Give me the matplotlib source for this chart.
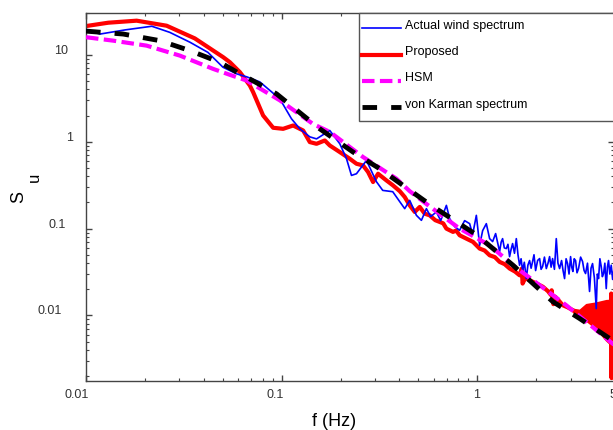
import matplotlib
matplotlib.use('Agg')
import matplotlib.pyplot as plt
from matplotlib.patches import Rectangle
from matplotlib.ticker import LogLocator, NullFormatter
from matplotlib.transforms import ScaledTranslation

# Données (f en Hz, S_u)
actual_f = [0.0100, 0.0118, 0.0158, 0.0217, 0.0268, 0.034, 0.042, 0.0501, 0.059, 0.0664,
            0.0774, 0.0979, 0.1123, 0.1239, 0.1393, 0.1508, 0.1762, 0.1983, 0.2146, 0.2275,
            0.2413, 0.2714, 0.3052, 0.3287, 0.3698, 0.4016, 0.4258, 0.4516,
            0.4886, 0.5182, 0.5495, 0.5779, 0.618, 0.6501, 0.6953, 0.7225, 0.7666, 0.8128,
            0.8619, 0.9144, 0.9471, 0.9892, 1.0285, 1.0654, 1.1127, 1.1565, 1.1983, 1.2413,
            1.3007, 1.325, 1.3473, 1.375, 1.4073, 1.435, 1.4629, 1.49, 1.5156, 1.55,
            1.5834, 1.615, 1.6456, 1.675, 1.7049, 1.74, 1.7808, 1.815, 1.8513, 1.885,
            1.918, 1.95, 1.9872, 2.035, 2.0832, 2.12, 2.1579, 2.205, 2.2539, 2.30,
            2.3428, 2.385, 2.4266, 2.48, 2.5346, 2.585, 2.6352, 2.6977, 2.745, 2.7945,
            2.845, 2.8951, 2.945, 2.9992, 3.04, 3.0812, 3.13, 3.1806, 3.235, 3.2946,
            3.375, 3.4539, 3.515, 3.5777, 3.66, 3.7497, 3.815, 3.8841, 3.97, 4.0569,
            4.11, 4.1687, 4.235, 4.3024, 4.36, 4.4209, 4.49, 4.5635, 4.625, 4.6881,
            4.76, 4.8397, 4.92, 5.0]
actual_s = [19.5, 17.4, 19.4, 21.4, 18.2, 14.0, 10.7, 7.22, 6.05, 5.59,
            4.89, 3.12, 1.84, 1.41, 1.14, 1.08, 1.35, 0.949, 0.638, 0.41,
            0.4286, 0.61, 0.347, 0.2756, 0.2662, 0.2043, 0.1698, 0.2115,
            0.1422, 0.1246, 0.1698, 0.1374, 0.1556, 0.1236, 0.1853, 0.1303, 0.1054, 0.0956,
            0.1236, 0.1141, 0.0853, 0.1422, 0.0643, 0.0948, 0.1141, 0.0767, 0.0709, 0.0877,
            0.0544, 0.070, 0.0767, 0.060, 0.0589, 0.066, 0.0476, 0.058, 0.0673, 0.052,
            0.0767, 0.050, 0.0379, 0.045, 0.0329, 0.041, 0.0266, 0.038, 0.0429, 0.035,
            0.0418, 0.050, 0.0329, 0.043, 0.0452, 0.034, 0.0366, 0.047, 0.0347, 0.040,
            0.0476, 0.036, 0.0452, 0.034, 0.0767, 0.040, 0.0347, 0.0429, 0.033, 0.0266,
            0.045, 0.0396, 0.030, 0.0476, 0.036, 0.0321, 0.045, 0.0429, 0.031, 0.0347,
            0.047, 0.0418, 0.033, 0.0304, 0.040, 0.0189, 0.035, 0.0396, 0.027, 0.0120,
            0.030, 0.0266, 0.045, 0.0366, 0.028, 0.0304, 0.040, 0.0204, 0.036, 0.0429,
            0.030, 0.0379, 0.026, 0.0347]

proposed_f = [0.0100, 0.0130, 0.01815, 0.02583, 0.036, 0.0503, 0.0544, 0.0612, 0.0688, 0.0715,
              0.0804, 0.0905, 0.1018, 0.1145, 0.1288, 0.1393, 0.1508, 0.1662, 0.1762, 0.1983,
              0.2229, 0.2413, 0.2608, 0.2766, 0.2933, 0.3111, 0.3433, 0.371, 0.4016, 0.4258,
              0.4516, 0.479, 0.508, 0.5385, 0.5713, 0.61, 0.6427, 0.67, 0.6955, 0.7515,
              0.78, 0.813, 0.8797, 0.9508, 1.0287, 1.09, 1.157, 1.23, 1.301, 1.38,
              1.464, 1.56, 1.646, 1.69, 1.705, 1.76, 1.925, 2.05, 2.166, 2.30,
              2.38, 2.40, 2.45, 2.50, 2.60, 2.739, 2.90, 3.082, 3.333, 3.60,
              4.058, 4.563, 4.80, 4.84, 4.86, 4.88, 5.0]
proposed_s = [21.5, 23.5, 24.8, 21.7, 15.5, 9.41, 8.24, 6.33, 4.44, 3.73,
              2.01, 1.45, 1.41, 1.54, 1.349, 0.992, 0.948, 1.035, 0.907, 0.761,
              0.638, 0.5585, 0.534, 0.4484, 0.344, 0.4286, 0.359, 0.3145, 0.27, 0.2314,
              0.1853, 0.1556, 0.1776, 0.1487, 0.1422, 0.125, 0.1194, 0.115, 0.1, 0.0917,
              0.095, 0.0838, 0.0767, 0.0704, 0.0589, 0.056, 0.0493, 0.047, 0.0414, 0.039,
              0.0347, 0.032, 0.029, 0.0347, 0.0233, 0.027, 0.0244, 0.0228, 0.0214, 0.019,
              0.0172, 0.0195, 0.0135, 0.0165, 0.015, 0.0131, 0.0124, 0.0115, 0.0101, 0.011,
              0.0100, 0.0095, 0.0100, 0.0179, 0.0019, 0.0120, 0.0075]

# enveloppe de la bande bruitée en haute fréquence
band_f = [3.10, 3.333, 3.604, 4.058, 4.563, 4.84, 5.0]
band_hi = [0.0118, 0.0115, 0.0134, 0.0140, 0.0149, 0.0150, 0.0150]
band_lo = [0.0110, 0.0093, 0.0088, 0.0071, 0.0052, 0.0046, 0.0046]

hsm_f = [0.0100, 0.01378, 0.0204, 0.0302, 0.0447, 0.0544, 0.0662, 0.0979, 0.1449, 0.1762,
         0.2608, 0.3862, 0.4516, 0.5713, 0.813, 1.157, 1.522, 2.084, 2.852, 3.608, 4.563, 5.0]
hsm_s = [16.0, 14.6, 12.8, 9.82, 6.9, 5.9, 5.07, 3.0, 1.6, 1.3,
         0.667, 0.3756, 0.27, 0.18, 0.1, 0.0643, 0.0379, 0.0223, 0.0131, 0.00847, 0.00544, 0.0046]

karman_f = [0.0100, 0.0155, 0.02387, 0.034, 0.0483, 0.0612, 0.0662, 0.0942, 0.1567, 0.232,
            0.3173, 0.4175, 0.5713, 0.9895, 1.522, 2.435, 3.333, 4.747, 5.0]
karman_s = [18.8, 17.4, 14.6, 11.2, 8.24, 6.05, 5.54, 3.56, 1.41, 0.761,
            0.4895, 0.3145, 0.19, 0.085, 0.0379, 0.0144, 0.00924, 0.00544, 0.0050]

xticks = [0.01, 0.1, 1, 5]
xtick_labels = ['0.01', '0.1', '1', '5']
yticks = [0.01, 0.1, 1, 10]
ytick_labels = ['0.01', '0.1', '1', '10']

plt.rcParams['font.family'] = ['Liberation Sans', 'DejaVu Sans']

fig = plt.figure(figsize=(6.13, 4.31), dpi=100)
ax = fig.add_axes([86 / 613, 1 - 382 / 431, 528 / 613, 368 / 431])

ax.plot(actual_f, actual_s, color='#0000ff', lw=1.2, zorder=3, label='Actual wind spectrum')
ax.plot(proposed_f, proposed_s, color='#ff0000', lw=3, zorder=2, label='Proposed')
ax.fill_between(band_f, band_lo, band_hi, color='#ff0000', lw=1.5, zorder=2)
ax.plot(hsm_f, hsm_s, color='#ff00ff', lw=3, dashes=(3, 1.3), zorder=4, label='HSM')
ax.plot(karman_f, karman_s, color='black', lw=3.5, dashes=(3, 2.9), zorder=5,
        label='von Karman spectrum')

ax.set_xscale('log')
ax.set_yscale('log')
ax.set_xlim(0.01, 5)
ax.set_ylim(0.00176, 30.4)

ax.set_xticks(xticks)
ax.set_xticklabels(xtick_labels)
ax.set_yticks(yticks)
ax.set_yticklabels(ytick_labels)
ax.xaxis.set_minor_locator(LogLocator(base=10, subs=range(2, 10), numticks=20))
ax.yaxis.set_minor_locator(LogLocator(base=10, subs=range(2, 10), numticks=20))
ax.xaxis.set_minor_formatter(NullFormatter())
ax.yaxis.set_minor_formatter(NullFormatter())

axis_col = '#444444'
for sp in ax.spines.values():
    sp.set_color(axis_col)
    sp.set_linewidth(1.0)
ax.tick_params(which='both', direction='in', top=True, right=True, color=axis_col,
               labelcolor='#333333', labelsize=9)
ax.tick_params(which='major', length=4, width=1)
ax.tick_params(which='minor', length=2.5, width=0.8)
ax.tick_params(axis='x', pad=5)
ax.tick_params(axis='y', pad=13)

# décalages des étiquettes (style Origin)
for lbl in ax.get_xticklabels():
    lbl.set_ha('right')
    lbl.set_transform(lbl.get_transform() + ScaledTranslation(0.025, 0, fig.dpi_scale_trans))
y_dx = [-6.3, -2.3, 4.7, 0.0]
for lbl, dx in zip(ax.get_yticklabels(), y_dx):
    lbl.set_va('bottom')
    lbl.set_transform(lbl.get_transform() + ScaledTranslation(dx / 100, -0.01, fig.dpi_scale_trans))

# cadre de la légende dessiné à part (il touche le bord droit)
ax.add_patch(Rectangle((0.517, 0.7065), 0.49, 0.2935, transform=ax.transAxes,
                       facecolor='white', edgecolor='#555555', lw=1.0, zorder=6,
                       clip_on=False))
leg = ax.legend(loc='upper left', bbox_to_anchor=(0.503, 1.0), frameon=False,
                borderaxespad=0, fontsize=9, handlelength=3.1, handletextpad=0.3,
                labelspacing=1.15, borderpad=0.85)
leg.set_zorder(7)
for t in leg.get_texts():
    t.set_transform(t.get_transform() + ScaledTranslation(0, 0.05, fig.dpi_scale_trans))

fig.text(334.5 / 613, 1 - 422 / 431, 'f (Hz)', fontsize=13, ha='center', va='center')
fig.text(18.3 / 613, 1 - 197.5 / 431, 'S', fontsize=13, rotation=90, ha='center', va='center')
fig.text(34.3 / 613, 1 - 177.5 / 431, 'u', fontsize=12, rotation=90, ha='center', va='center')

fig.savefig('out.png', dpi=100)
plt.close(fig)
